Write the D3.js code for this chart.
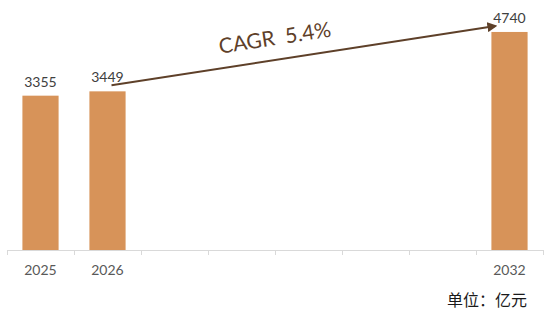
<!DOCTYPE html>
<html><head><meta charset="utf-8">
<script src="https://cdn.jsdelivr.net/npm/d3@7"></script>
<style>body{margin:0;background:#fff}svg{display:block}</style>
</head><body>
<svg id="c" width="552" height="319"></svg>
<script>
const categories = ["2025","2026","2027","2028","2029","2030","2031","2032"];
const tickLabels = ["2025","2026","","","","","","2032"];
const values = [3355, 3449, null, null, null, null, null, 4740];
const cagrLabel = "CAGR  5.4%";
const unitLabel = "单位：亿元";

const svg = d3.select("#c");
const x = d3.scaleBand().domain(categories).range([7, 543]).paddingInner(0.46).paddingOuter(0.23);
const y = d3.scaleLinear().domain([0, 5000]).range([250, 20]);
const font = "Lato, 'Liberation Sans', sans-serif";

const data = categories.map((c,i)=>({c, v: values[i], t: tickLabels[i]})).filter(d=>d.v!=null);

svg.selectAll("rect.bar").data(data).join("rect").attr("class","bar")
  .attr("x", d=>x(d.c)).attr("width", x.bandwidth())
  .attr("y", d=>y(d.v)).attr("height", d=>y(0)-y(d.v))
  .attr("fill", "#D79359");

// axis
const step = (543-7)/categories.length;
const g = svg.append("g");
g.append("line").attr("x1",7).attr("x2",543).attr("y1",250.5).attr("y2",250.5).attr("stroke","#d9d9d9");
d3.range(categories.length+1).forEach(i=>{
  const xx = Math.round(7 + i*step)+0.5;
  g.append("line").attr("x1",xx).attr("x2",xx).attr("y1",250).attr("y2",255).attr("stroke","#d9d9d9");
});
g.selectAll("text.tick").data(categories.map((c,i)=>({c,t:tickLabels[i]}))).join("text")
  .attr("x", d=>x(d.c)+x.bandwidth()/2).attr("y", 275)
  .attr("text-anchor","middle").attr("font-family",font).attr("font-size",14).attr("fill","#595959")
  .text(d=>d.t);

// value labels
svg.selectAll("text.val").data(data).join("text")
  .attr("x", d=>x(d.c)+x.bandwidth()/2).attr("y", d=>y(d.v)-9)
  .attr("text-anchor","middle").attr("font-family",font).attr("font-size",14).attr("fill","#404040")
  .text(d=>d.v);

// arrow
const defs = svg.append("defs");
defs.append("marker").attr("id","ah").attr("viewBox","0 0 10 10").attr("refX",8).attr("refY",5)
  .attr("markerWidth",5).attr("markerHeight",5).attr("orient","auto")
  .append("path").attr("d","M0,0L10,5L0,10z").attr("fill","#5e4029");
const x1 = x("2026")+x.bandwidth()/2+4, y1 = y(3449)-6;
const x2 = x("2032")+4, y2 = y(4740)-6;
svg.append("line").attr("x1",x1).attr("y1",y1).attr("x2",x2).attr("y2",y2)
  .attr("stroke","#5e4029").attr("stroke-width",2).attr("marker-end","url(#ah)");
const ang = Math.atan2(y2-y1, x2-x1)*180/Math.PI;
svg.append("text").attr("transform",`translate(276,45) rotate(${ang})`)
  .attr("text-anchor","middle").attr("font-family",font).attr("font-size",21).attr("fill","#5e4029")
  .style("white-space","pre")
  .text(cagrLabel);

svg.append("text").attr("x",527).attr("y",306).attr("text-anchor","end")
  .attr("font-family","'Noto Sans CJK SC', sans-serif").attr("font-size",16).attr("fill","#1a1a1a")
  .text(unitLabel);
</script>
</body></html>
